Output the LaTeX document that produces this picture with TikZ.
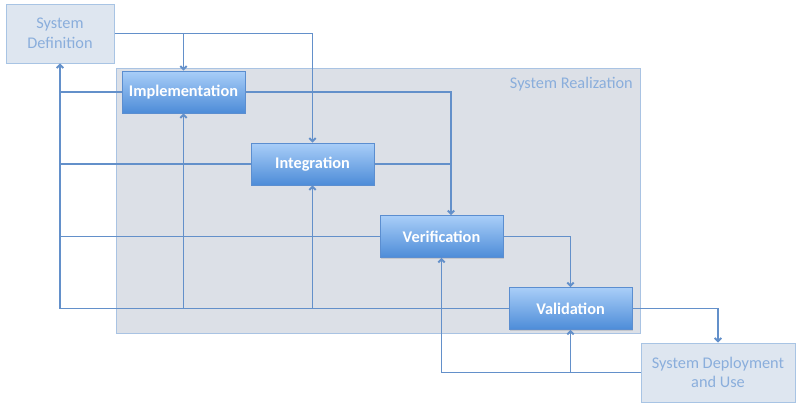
\documentclass[tikz,border=0pt]{standalone}
\usepackage{fontspec}
\setmainfont{Carlito}
\usetikzlibrary{arrows.meta,shadows}
\definecolor{linec}{HTML}{6390CA}
\definecolor{boxtop}{HTML}{A9CEF8}
\definecolor{boxbot}{HTML}{4D8CD8}
\definecolor{boxborder}{HTML}{5B8ED0}
\definecolor{lightfill}{HTML}{DEE6F0}
\definecolor{lightborder}{HTML}{A8C4E4}
\definecolor{lighttext}{HTML}{8AAEDC}
\definecolor{realfill}{HTML}{DCE0E7}
\definecolor{realborder}{HTML}{A9C3E3}
\begin{document}
\begin{tikzpicture}[x={(1pt,0pt)},y={(0pt,-1pt)},
  stage/.style={draw=boxborder, line width=0.8pt, top color=boxtop, bottom color=boxbot,
    minimum width=123pt, minimum height=42pt, inner sep=0pt, text=white,
    font=\bfseries\fontsize{16.3}{19}\selectfont,
    drop shadow={opacity=0.25, shadow xshift=0.8pt, shadow yshift=-1.2pt}},
  outer/.style={draw=lightborder, line width=1pt, fill=lightfill, text=lighttext,
    inner sep=0pt, align=center, font=\fontsize{16.3}{19.5}\selectfont},
  conn/.style={draw=linec, line width=1.9pt, -{Straight Barb[length=3.2pt,width=6.5pt]}},
  plain/.style={draw=linec, line width=1.9pt}]
\useasboundingbox (0,0) rectangle (800,410);
% realization area
\node[draw=realborder, line width=1pt, fill=realfill, inner sep=0pt,
  minimum width=524pt, minimum height=265pt] (real) at (378,200.5) {};
\node[anchor=east, text=lighttext, font=\fontsize{16.3}{19}\selectfont, inner sep=0pt] (realtitle) at (633,84) {System Realization};
% outer boxes
\node[outer, minimum width=108pt, minimum height=59pt] (sd) at (60,33.5) {System\\Definition};
\node[outer, minimum width=154pt, minimum height=59pt] (sdu) at (718,372.5) {System Deployment\\and Use};
% stages
\node[stage] (impl) at (183.5,92) {Implementation};
\node[stage] (integ) at (312.5,164) {Integration};
\node[stage] (verif) at (441.5,236.5) {Verification};
\node[stage] (valid) at (570.5,308.5) {Validation};
% coordinates
\coordinate (vtop) at ([xshift=9.5pt]verif.north);
\coordinate (fb) at (sd.south |- valid.west);
% forward flow
\draw[conn] (sd.east) -| (integ.north);
\draw[conn] (sd.east -| impl.north) -- (impl.north);
\draw[conn] (impl.east) -| (vtop);
\draw[plain] (integ.east) -- (integ.east -| vtop);
\draw[conn] (verif.east) -| (valid.north);
\draw[conn] (valid.east) -| (sdu.north);
% feedback from deployment
\draw[conn] (sdu.west) -| (verif.south);
\draw[conn] (sdu.west -| valid.south) -- (valid.south);
% feedback to definition
\draw[conn] (valid.west) -- (fb) -- (sd.south);
\draw[plain] (impl.west) -- (impl.west -| fb);
\draw[plain] (integ.west) -- (integ.west -| fb);
\draw[plain] (verif.west) -- (verif.west -| fb);
\draw[conn] (valid.west -| impl.south) -- (impl.south);
\draw[conn] (valid.west -| integ.south) -- (integ.south);
\end{tikzpicture}
\end{document}
